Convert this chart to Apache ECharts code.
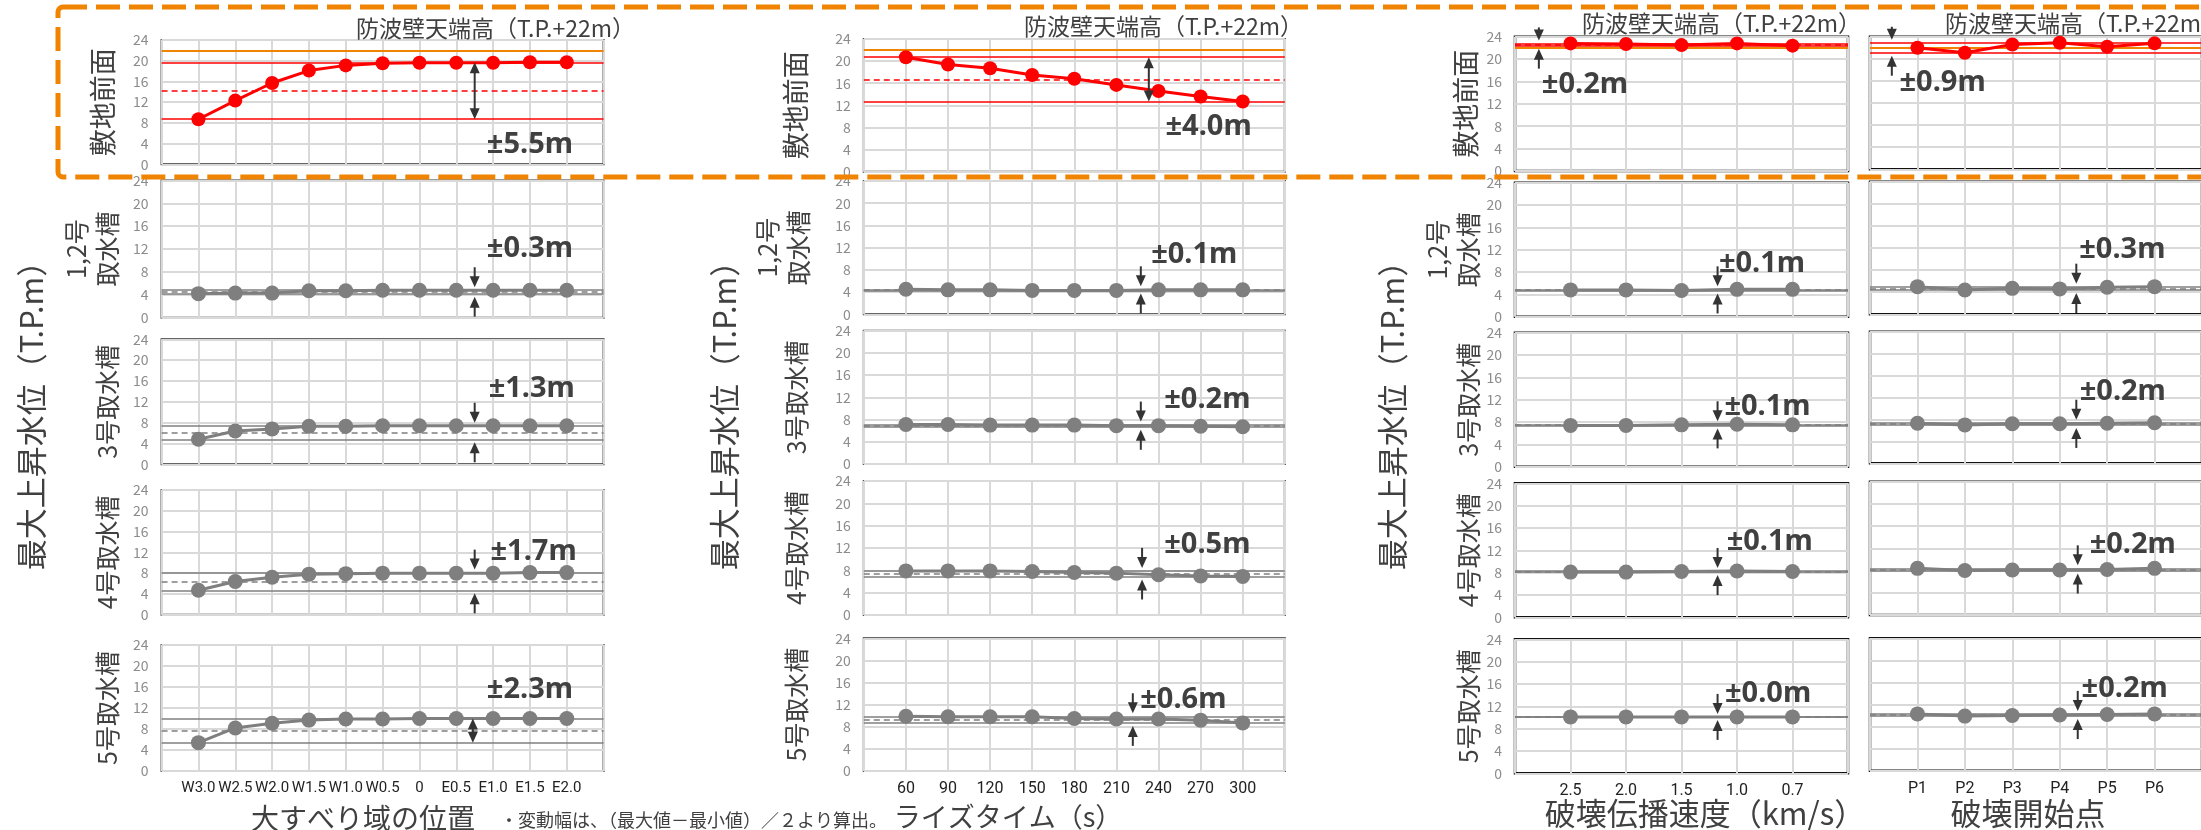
<!DOCTYPE html>
<html>
<head>
<meta charset="utf-8">
<script src="https://cdn.jsdelivr.net/npm/echarts@6/dist/echarts.min.js"></script>
<style>
  html, body { margin: 0; padding: 0; background: #fff; }
  #chart { width: 2201px; height: 830px; }
</style>
</head>
<body>
<div id="chart"></div>
<script>
// ---- data ----
const positionCats = ['W3.0', 'W2.5', 'W2.0', 'W1.5', 'W1.0', 'W0.5', '0', 'E0.5', 'E1.0', 'E1.5', 'E2.0'];
const riseCats = ['60', '90', '120', '150', '180', '210', '240', '270', '300'];
const speedCats = ['2.5', '2.0', '1.5', '1.0', '0.7'];
const startCats = ['P1', 'P2', 'P3', 'P4', 'P5', 'P6'];

const rowNames = ['敷地前面', '1,2号\n取水槽', '3号取水槽', '4号取水槽', '5号取水槽'];
const xTitles = ['大すべり域の位置', 'ライズタイム（s）', '破壊伝播速度（km/s）', '破壊開始点'];
const yTitle = '最大上昇水位（T.P.m）';
const wallTitle = '防波壁天端高（T.P.+22m）';
const note = '・変動幅は、（最大値－最小値）／２より算出。';
const seawallHeight = 22;

// 大すべり域の位置
const positionFront = [8.7, 12.3, 15.7, 18.1, 19.1, 19.5, 19.6, 19.6, 19.6, 19.7, 19.7];
const position12 = [4.2, 4.3, 4.3, 4.7, 4.7, 4.8, 4.8, 4.8, 4.8, 4.8, 4.8];
const position3 = [4.8, 6.4, 6.8, 7.3, 7.3, 7.4, 7.4, 7.4, 7.4, 7.4, 7.4];
const position4 = [4.7, 6.4, 7.2, 7.8, 7.9, 8.0, 8.0, 8.0, 8.0, 8.1, 8.1];
const position5 = [5.4, 8.2, 9.1, 9.7, 9.9, 9.9, 10.0, 10.0, 10.0, 10.0, 10.0];
const positionSpread = ['±5.5m', '±0.3m', '±1.3m', '±1.7m', '±2.3m'];

// ライズタイム
const riseFront = [20.7, 19.4, 18.7, 17.5, 16.8, 15.7, 14.6, 13.6, 12.7];
const rise12 = [4.5, 4.4, 4.4, 4.3, 4.3, 4.3, 4.4, 4.4, 4.4];
const rise3 = [7.1, 7.1, 7.0, 7.0, 7.0, 6.9, 6.9, 6.8, 6.7];
const rise4 = [7.9, 7.9, 7.9, 7.8, 7.6, 7.5, 7.2, 7.0, 6.9];
const rise5 = [9.9, 9.8, 9.8, 9.8, 9.5, 9.4, 9.4, 9.2, 8.7];
const riseSpread = ['±4.0m', '±0.1m', '±0.2m', '±0.5m', '±0.6m'];

// 破壊伝播速度
const speedFront = [22.8, 22.7, 22.5, 22.8, 22.4];
const speed12 = [4.8, 4.8, 4.7, 4.9, 4.9];
const speed3 = [7.4, 7.4, 7.5, 7.6, 7.5];
const speed4 = [8.1, 8.1, 8.2, 8.3, 8.2];
const speed5 = [10.1, 10.1, 10.1, 10.1, 10.1];
const speedSpread = ['±0.2m', '±0.1m', '±0.1m', '±0.1m', '±0.0m'];

// 破壊開始点
const startFront = [22.0, 21.1, 22.6, 22.9, 22.2, 22.8];
const start12 = [5.0, 4.4, 4.7, 4.6, 4.9, 5.0];
const start3 = [7.3, 7.0, 7.2, 7.2, 7.3, 7.4];
const start4 = [8.4, 8.0, 8.1, 8.1, 8.2, 8.4];
const start5 = [10.3, 9.9, 10.0, 10.1, 10.2, 10.3];
const startSpread = ['±0.9m', '±0.3m', '±0.2m', '±0.2m', '±0.2m'];

// ---- layout (pixels) ----
const FONT = '"Noto Sans CJK JP", "Noto Sans", sans-serif';
const LATIN_BOLD = '"Noto Sans", "Noto Sans CJK JP", sans-serif';
const TEXT = '#404040';
const RED = '#ff0000';
const GRAY = '#7f7f7f';
const ORANGE = '#f08400';

const columns = [
  {
    cats: positionCats, rows: [positionFront, position12, position3, position4, position5], spreads: positionSpread,
    left: 161.6, width: 442,
    tops: [40, 180.4, 339.3, 490, 645], bottoms: [164.3, 317.7, 464.3, 614.7, 771],
    yLabels: true, labelSize: 15,
    titleX: 356, titleY: 28, xTitleX: 363, xTitleY: 818, xTitleSize: 28,
    yTitleX: 31, rowX: [103, 92, 107, 107, 107],
    // arrow x, arrow type, label x, label y (axis units)
    annot: [[8.5, 'both', 10.0, 3.7], [8.5, 'in', 10.0, 12.0], [8.5, 'in', 10.05, 14.6], [8.5, 'in', 10.1, 12.1], [8.45, 'both', 10.0, 15.4]]
  },
  {
    cats: riseCats, rows: [riseFront, rise12, rise3, rise4, rise5], spreads: riseSpread,
    left: 863.8, width: 421,
    tops: [39, 181, 330.7, 481, 638.3], bottoms: [171.7, 314.3, 464, 615, 771],
    yLabels: true, labelSize: 16,
    titleX: 1024, titleY: 26, xTitleX: 1008, xTitleY: 817, xTitleSize: 27,
    yTitleX: 724, rowX: [796, 783, 796, 796, 796],
    annot: [[6.77, 'both', 8.19, 8.1], [6.58, 'in', 7.85, 10.7], [6.58, 'in', 8.16, 11.65], [6.61, 'in', 8.16, 12.5], [6.39, 'in', 7.59, 12.8]]
  },
  {
    cats: speedCats, rows: [speedFront, speed12, speed3, speed4, speed5], spreads: speedSpread,
    left: 1515, width: 333,
    tops: [36.7, 182.7, 332.7, 483.3, 639.3], bottoms: [171, 316.7, 466.7, 617.3, 773.3],
    yLabels: true, labelSize: 16,
    titleX: 1582, titleY: 23, xTitleX: 1705, xTitleY: 813, xTitleSize: 31,
    yTitleX: 1392, rowX: [1466, 1453, 1468, 1468, 1468],
    annot: [[0.43, 'in', 1.26, 15.4, 13], [3.65, 'in', 4.45, 9.4], [3.65, 'in', 4.55, 10.7], [3.65, 'in', 4.59, 13.5], [3.65, 'in', 4.56, 14.3]]
  },
  {
    cats: startCats, rows: [startFront, start12, start3, start4, start5], spreads: startSpread,
    left: 1870, width: 332,
    tops: [36.7, 181.7, 331.7, 481.7, 638.3], bottoms: [169.3, 314.3, 463.3, 615, 770.7],
    yLabels: false, labelSize: 16,
    titleX: 1945, titleY: 23, xTitleX: 2028, xTitleY: 813, xTitleSize: 31,
    yTitleX: null, rowX: null,
    annot: [[0.46, 'in', 1.53, 15.6, 13], [4.35, 'in', 5.32, 11.6], [4.35, 'in', 5.33, 13.06], [4.38, 'in', 5.54, 12.6], [4.38, 'in', 5.37, 14.9]]
  }
];

function arrowParts(x, fromY, toY) {
  const dir = toY > fromY ? 1 : -1;
  return [
    { type: 'line', shape: { x1: x, y1: fromY, x2: x, y2: toY - dir * 8 }, style: { stroke: '#333', lineWidth: 2 } },
    { type: 'polygon', shape: { points: [[x - 5, toY - dir * 11], [x + 5, toY - dir * 11], [x, toY]] }, style: { fill: '#333' } }
  ];
}

const option = {
  animation: false,
  backgroundColor: '#fff',
  grid: [], xAxis: [], yAxis: [], series: [], graphic: []
};

columns.forEach((col, ci) => {
  col.rows.forEach((vals, ri) => {
    const idx = option.grid.length;
    const isFront = ri === 0;
    const color = isFront ? RED : GRAY;
    const last = ri === col.rows.length - 1;
    option.grid.push({
      left: col.left, top: col.tops[ri], width: col.width, height: col.bottoms[ri] - col.tops[ri],
      show: true, backgroundColor: '#fff', borderColor: ci >= 2 ? '#111' : '#333', borderWidth: ci >= 2 ? 2.5 : 2,
      containLabel: false, outerBoundsMode: 'none'
    });
    const cats = col.cats;
    option.xAxis.push({
      type: 'value', gridIndex: idx, min: 0, max: cats.length + 1, interval: 1,
      axisLine: { show: false }, axisTick: { show: false },
      splitLine: { show: true, lineStyle: { color: '#d9d9d9', width: 2 } },
      axisLabel: {
        show: last, margin: 10, color: '#222', fontSize: col.labelSize, fontFamily: 'Roboto',
        formatter: v => cats[v - 1] || ''
      }
    });
    option.yAxis.push({
      type: 'value', gridIndex: idx, min: 0, max: 24, interval: 4,
      axisLine: { show: false }, axisTick: { show: false },
      splitLine: { show: true, lineStyle: { color: '#d9d9d9', width: 2 } },
      axisLabel: { show: col.yLabels, margin: 13, color: '#8c8c8c', fontSize: 14, fontFamily: FONT }
    });

    const hi = Math.max(...vals);
    const lo = Math.min(...vals);
    const mid = (hi + lo) / 2;
    const lines = [
      { yAxis: hi, lineStyle: { color: color, width: 1.5, type: 'solid' } },
      { yAxis: lo, lineStyle: { color: color, width: 1.5, type: 'solid' } },
      { yAxis: mid, lineStyle: { color: color, width: 1.5, type: [6, 4] } }
    ];
    if (isFront) lines.push({ yAxis: seawallHeight, lineStyle: { color: ORANGE, width: 2, type: 'solid' } });

    option.series.push({
      type: 'line', xAxisIndex: idx, yAxisIndex: idx, z: 5,
      data: vals.map((v, i) => [i + 1, v]),
      symbol: 'circle', symbolSize: isFront ? 14 : 15, showAllSymbol: true,
      lineStyle: { color: color, width: 3 }, itemStyle: { color: color },
      silent: true,
      markLine: { silent: true, symbol: 'none', label: { show: false }, animation: false, z: 3, data: lines }
    });

    const a = col.annot[ri];
    const spreadText = col.spreads[ri];
    const topLen = a[4] || 20;
    option.series.push({
      type: 'custom', xAxisIndex: idx, yAxisIndex: idx, z: 10, clip: false, silent: true,
      data: [[a[0], hi, lo, a[2], a[3]]],
      renderItem: (params, api) => {
        const pHi = api.coord([api.value(0), api.value(1)]);
        const pLo = api.coord([api.value(0), api.value(2)]);
        const pLab = api.coord([api.value(3), api.value(4)]);
        const x = pHi[0];
        let parts;
        if (a[1] === 'both') {
          parts = [
            { type: 'line', shape: { x1: x, y1: pHi[1] + 8, x2: x, y2: pLo[1] - 8 }, style: { stroke: '#333', lineWidth: 2 } },
            { type: 'polygon', shape: { points: [[x - 5, pHi[1] + 11], [x + 5, pHi[1] + 11], [x, pHi[1]]] }, style: { fill: '#333' } },
            { type: 'polygon', shape: { points: [[x - 5, pLo[1] - 11], [x + 5, pLo[1] - 11], [x, pLo[1]]] }, style: { fill: '#333' } }
          ];
        } else {
          parts = arrowParts(x, pHi[1] - 3 - topLen, pHi[1] - 3)
            .concat(arrowParts(x, pLo[1] + 23, pLo[1] + 3));
        }
        parts.push({
          type: 'text', x: pLab[0], y: pLab[1],
          style: {
            text: spreadText, fill: TEXT, font: 'bold 29px ' + LATIN_BOLD,
            align: 'center', verticalAlign: 'middle', textAlign: 'center', textVerticalAlign: 'middle'
          }
        });
        return { type: 'group', children: parts };
      }
    });

    // row label (vertical)
    if (col.rowX) {
      option.graphic.push({
        type: 'text', x: col.rowX[ri], y: (col.tops[ri] + col.bottoms[ri]) / 2, rotation: Math.PI / 2, z: 20,
        style: {
          text: rowNames[ri], fill: TEXT, font: (isFront ? '27px ' : '25px ') + FONT, lineHeight: 31,
          align: 'center', verticalAlign: 'middle', textAlign: 'center', textVerticalAlign: 'middle'
        }
      });
    }
  });

  // column headline for the seawall line
  option.graphic.push({
    type: 'text', x: col.titleX, y: col.titleY, z: 20,
    style: { text: wallTitle, fill: TEXT, font: '23px ' + FONT, align: 'left', verticalAlign: 'middle', textAlign: 'left', textVerticalAlign: 'middle' }
  });
  // bottom axis title
  option.graphic.push({
    type: 'text', x: col.xTitleX, y: col.xTitleY, z: 20,
    style: { text: xTitles[ci], fill: TEXT, font: col.xTitleSize + 'px ' + FONT, align: 'center', verticalAlign: 'middle', textAlign: 'center', textVerticalAlign: 'middle' }
  });
  // big y title
  if (col.yTitleX !== null) {
    option.graphic.push({
      type: 'text', x: col.yTitleX, y: 408, rotation: Math.PI / 2, z: 20,
      style: { text: yTitle, fill: TEXT, font: '31px ' + FONT, align: 'center', verticalAlign: 'middle', textAlign: 'center', textVerticalAlign: 'middle' }
    });
  }
});

option.graphic.push({
  type: 'text', x: 500, y: 820, z: 20,
  style: { text: note, fill: TEXT, font: '18px ' + FONT, align: 'left', verticalAlign: 'middle', textAlign: 'left', textVerticalAlign: 'middle' }
});

// orange dashed frame around the 敷地前面 row
option.graphic.push({
  type: 'rect', z: 50, silent: true,
  shape: { x: 58, y: 7, width: 2300, height: 170, r: 5 },
  style: { fill: 'none', stroke: ORANGE, lineWidth: 5, lineDash: [24, 9] }
});

const chart = echarts.init(document.getElementById('chart'), null, { renderer: 'canvas' });
chart.setOption(option);
</script>
</body>
</html>
